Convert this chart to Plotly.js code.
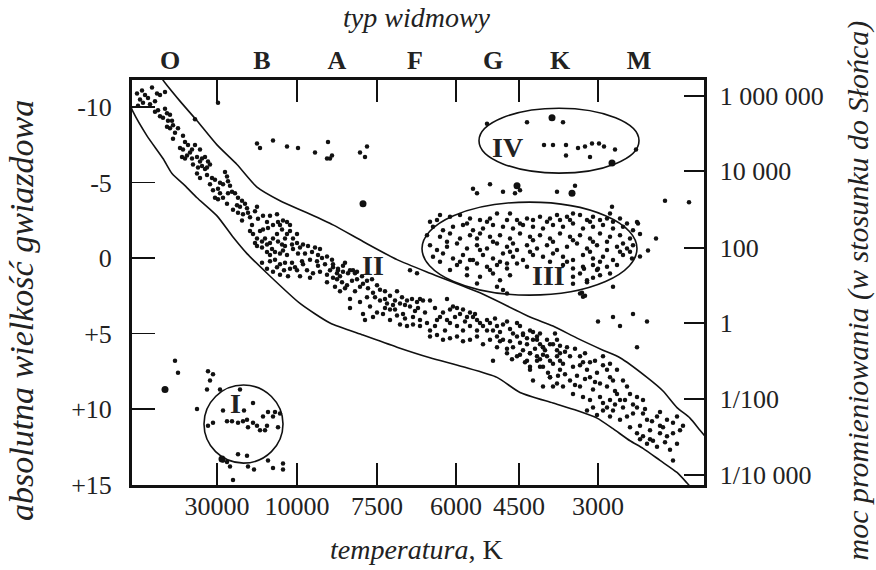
<!DOCTYPE html>
<html><head><meta charset="utf-8">
<script src="https://cdn.plot.ly/plotly-3.0.1.min.js"></script>
<style>html,body{margin:0;padding:0;background:#fff}#chart{width:876px;height:570px}</style>
</head><body><div id="chart"></div>
<script>
// x: position along the spectral / temperature axis (plot units), y: absolute magnitude
const tempTickPos = [217, 297, 377, 456, 519, 598];
const tempTickText = ['30000', '10000', '7500', '6000', '4500', '3000'];
const spectralPos = [170, 262, 337, 415, 493, 560, 639];
const spectralText = ['O', 'B', 'A', 'F', 'G', 'K', 'M'];
const magTicks = [-10, -5, 0, 5, 10, 15];
const magText = ['-10', '-5', '0', '+5', '+10', '+15'];
const lumTickMag = [-10.73, -5.76, -0.66, 4.30, 9.34, 14.37];
const lumText = ['1 000 000', '10 000', '100', '1', '1/100', '1/10 000'];

const mainSequence = [
[137,-10.9],[142,-11.1],[145,-10.8],[152,-11.3],[157,-10.9],[160,-10.8],[165,-11.0],[140,-10.5],[143,-10.3],[138,-10.1],
[155,-9.7],[158,-9.8],[160,-9.4],[163,-9.3],[167,-9.6],[170,-9.5],[168,-9.1],[172,-9.1],[173,-8.8],[167,-8.7],[170,-8.6],[175,-8.3],[173,-7.9],
[183,-8.1],[185,-7.7],[180,-7.3],[183,-7.2],[188,-7.5],[192,-7.2],[195,-7.5],[200,-7.2],[187,-6.8],[192,-6.6],[197,-6.7],[202,-6.6],[205,-6.7],[208,-6.4],[210,-6.2],[182,-6.7],[185,-6.6],[193,-6.2],[198,-6.0],[202,-6.1],[205,-5.9],[197,-5.6],[200,-5.3],[207,-5.5],[212,-5.3],[225,-5.7],[227,-5.4],[228,-5.1],[223,-4.9],[230,-4.8],[232,-4.4],[235,-4.3],[210,-4.9],[213,-4.5],[218,-4.6],[220,-4.3],[215,-4.0],[218,-3.9],[223,-4.0],[227,-3.6],[237,-3.5],[240,-3.4],[245,-3.6],[247,-3.3],[238,-3.0],[243,-2.9],[248,-3.0],[255,-3.1],[257,-3.4],[250,-2.7],[263,-2.8],[267,-2.4],[270,-2.8],[277,-2.9],[278,-2.4],[280,-2.2],[283,-2.5],[287,-2.4],[290,-2.2],[290,-1.8],[287,-1.6],[293,-1.3],[297,-1.6],[250,-1.8],[253,-1.6],[260,-1.8],[263,-1.9],[257,-1.3],[262,-1.1],[265,-1.3],[267,-0.9],[270,-1.0],[273,-1.3],[277,-1.6],[278,-1.1],[282,-0.9],[285,-0.8],[257,-0.8],[262,-0.7],[267,-0.4],[270,-0.2],[275,-0.4],[280,-0.3],[287,-0.2],[293,-0.6],[297,-1.0],[300,-0.7],[303,-0.9],[308,-0.8],[312,-0.4],[315,-0.7],[320,-0.6],[310,0.1],[317,0.2],[322,0.0],[327,-0.1],[332,0.1],[333,0.4],[338,0.7],[343,0.9],[350,0.8],[357,0.9],[270,0.2],[275,0.1],[280,0.4],[285,0.3],[290,0.7],[295,0.6],[297,0.8],[267,0.7],[273,0.9],[280,1.1],[303,0.4],[307,0.8],[313,1.0],[320,0.9],[327,1.1],[330,0.8],[337,1.0],
[333,0.6],[338,0.8],[343,0.5],[348,1.0],[353,0.8],[337,1.4],[342,1.6],[347,1.8],[335,1.9],[340,2.2],[352,1.5],[357,1.4],[360,1.9],[355,2.2],[363,1.7],[367,1.5],[372,1.4],[377,1.8],[350,2.7],[360,2.9],[367,2.6],[373,2.3],[380,2.1],[385,2.2],[390,2.5],[397,2.2],[402,2.6],[407,2.8],[412,2.7],[417,2.9],[420,2.7],[380,2.8],[387,3.0],[393,3.1],[400,3.0],[410,3.2],[418,3.3],[423,2.8],[430,2.8],[370,3.2],[377,3.6],[383,3.7],[390,3.4],[397,3.8],[403,3.7],[413,3.9],[420,4.1],[350,3.3],[363,3.7],[373,3.9],[365,4.1],[390,4.1],[400,4.4],[407,4.5],[413,4.4],[420,4.5],[427,4.3],[430,4.8],[437,4.1],[440,3.9],[447,2.7],[450,3.4],[453,3.2],[457,3.3],[460,3.7],[463,3.4],[467,3.9],[470,3.6],[473,3.9],[477,4.1],[447,4.1],[450,4.3],[457,4.5],[463,4.8],[470,4.5],[477,4.8],[483,4.5],[487,4.1],[490,4.3],[493,4.8],[497,4.5],[503,4.4],[510,4.7],[517,4.3],[520,4.5],[430,5.2],[437,5.1],[443,5.4],[450,5.3],[457,5.2],[463,5.5],[470,5.4],[477,5.2],[483,5.7],[490,5.4],[497,5.2],[503,5.4],[510,5.5],[517,5.2],[523,5.1],[530,4.8],[533,5.4],[537,5.2],[540,5.7],[543,5.9],[550,5.7],[557,5.4],[497,5.9],[500,5.5],[507,6.0],[513,5.9],[523,6.1],[530,6.3],[537,6.5],[543,6.4],[550,6.8],[557,6.5],[530,7.2],[543,7.2],[550,7.9],[557,8.3],[493,6.8],[507,6.3],[517,6.5],[527,6.8],
[523,5.0],[527,5.7],[533,4.9],[537,5.4],[530,6.3],[537,6.8],[530,7.4],[525,6.9],[543,5.9],[547,6.5],[553,5.7],[557,6.1],[553,7.0],[560,7.4],[550,7.9],[553,8.5],[563,8.5],[567,5.9],[570,6.5],[563,7.0],[573,7.2],[577,7.8],[570,8.1],[580,6.5],[583,6.9],[587,7.4],[590,7.9],[580,8.5],[573,9.0],[583,9.2],[590,9.4],[593,8.7],[600,8.3],[597,7.6],[603,7.1],[607,7.4],[610,7.9],[607,8.5],[613,8.1],[600,9.2],[610,9.4],[617,9.0],[620,9.4],[623,9.9],[613,10.1],[603,10.1],[597,10.4],[610,10.5],[620,10.7],[627,10.5],[633,10.3],[627,8.5],[630,9.0],[637,9.2],[643,9.4],[637,9.9],[643,10.3],[647,10.7],[640,11.1],[630,11.2],[637,11.6],[643,11.8],[650,11.4],[653,12.1],[657,12.5],[647,12.3],[660,11.6],[667,11.8],[663,11.2],[657,10.5],[660,10.2],[667,10.7],[673,10.9],[677,10.5],[683,11.1],[673,11.6],[680,11.4],[677,12.3],[670,12.7],[673,13.4],[617,7.4],[623,8.1],[610,7.0],[603,6.5],[560,6.8],[540,7.2],[533,8.1],[543,8.5],[607,9.9],[587,10.1],
[410,0.8],[417,1.0],
[233,-3.2],[242,-2.5],[252,-2.2],[258,-2.6],[268,-2.0],[273,-2.2],[282,-1.9],[285,-1.3],[292,-0.9],[255,-1.0],[272,-0.6],[283,-0.5],[298,-0.3],[305,-0.3],[318,-0.2],[325,0.4],[302,0.2],[292,0.3],[284,0.8],[262,0.3],[277,0.6],[288,1.2],[300,1.2],[310,1.3],[318,0.5],[345,0.3],[340,1.2],[327,1.6],[333,1.3],[345,2.0],[355,1.0],[362,1.2],[368,2.0],[375,2.6],[385,2.7],[395,2.8],[405,3.1],[385,3.3],[395,3.4],[405,4.0],[415,3.5],[425,3.6],[435,3.3],[443,3.6],[435,4.5],[445,4.8],[455,3.9],[465,4.2],[475,3.7],[480,4.3],[487,4.8],[495,4.0],[500,4.9],[507,4.2],[513,5.0],[520,5.6],[527,5.3],[540,5.0],[547,5.4],[555,5.0],[560,5.8],[565,6.2],[575,6.0],[585,6.3],[595,6.8],[560,6.3],[545,6.1],[535,6.0],[520,6.4],[512,6.7],[540,6.7],[548,7.6],[558,7.8],[565,7.7],[575,8.4],[585,8.0],[595,8.2],[593,9.9],[603,9.6],[615,8.8],[625,9.4],[633,9.7],[645,10.0],[652,10.8],[660,11.1],[650,12.0],[640,12.0],[665,12.2],[615,9.7],[580,7.1],[590,6.9],[200,-6.4],[190,-7.0],[207,-6.0],[215,-5.2],[220,-5.0],[228,-4.3],[238,-4.0],[242,-3.8],[178,-8.6],[150,-10.2],[165,-9.9],[148,-10.6],[155,-10.4]
];

const giants = [
[430,-2.41],[437,-2.52],[450,-2.74],[460,-2.85],[470,-2.63],[480,-2.52],[490,-2.63],[497,-2.96],[510,-2.96],[517,-2.52],[527,-2.63],[533,-2.52],[540,-2.74],[550,-2.63],[560,-2.52],[567,-2.74],[573,-2.96],[580,-2.85],[587,-2.52],[593,-2.74],[600,-2.52],[607,-2.63],[613,-2.41],[620,-2.63],
[433,-2.08],[443,-1.85],[453,-2.08],[463,-2.19],[473,-1.85],[483,-1.96],[493,-2.19],[503,-2.08],[513,-1.96],[523,-2.19],[533,-2.08],[543,-1.96],[553,-2.19],[563,-2.08],[573,-2.3],[583,-1.96],[593,-2.08],[603,-2.19],[613,-1.96],[623,-2.08],[633,-1.85],
[427,-1.52],[440,-1.41],[450,-1.63],[460,-1.3],[470,-1.52],[480,-1.63],[490,-1.41],[500,-1.52],[510,-1.3],[520,-1.63],[530,-1.41],[540,-1.52],[550,-1.3],[560,-1.63],[570,-1.41],[580,-1.52],[590,-1.3],[600,-1.63],[610,-1.41],[620,-1.52],[630,-1.3],
[430,-0.86],[437,-0.53],[447,-0.75],[457,-0.97],[467,-0.64],[477,-0.86],[487,-0.64],[497,-0.97],[507,-0.75],[517,-0.53],[527,-0.86],[537,-0.64],[547,-0.86],[557,-0.53],[567,-0.75],[577,-0.97],[587,-0.64],[597,-0.86],[607,-0.53],[617,-0.75],[627,-0.64],[633,-0.86],
[433,-0.09],[443,-0.31],[453,0.02],[463,-0.2],[473,0.13],[483,-0.2],[493,0.02],[503,-0.31],[513,-0.09],[523,0.13],[533,-0.2],[543,-0.09],[553,-0.31],[563,-0.09],[573,0.13],[583,-0.2],[593,0.02],[603,-0.09],[613,0.13],[623,-0.2],[632,0.02],
[457,0.46],[467,0.68],[477,0.35],[487,0.57],[497,0.46],[507,0.68],[517,0.35],[527,0.57],[563,0.46],[573,0.68],[583,0.57],[597,0.79],[607,0.57],[617,0.46],
[467,1.13],[480,1.24],[493,1.02],[500,1.46],[510,1.13],[573,1.24],[587,1.46],[600,1.13],
[497,1.9],[503,2.12],[507,2.34],[477,1.68],[580,2.34],[583,2.56],
[440,-2.85],[467,-2.3],[487,-2.41],[507,-2.52],[520,-2.3],[547,-2.41],[557,-2.85],[570,-2.52],[590,-2.41],[610,-2.96],[627,-2.3],
[447,-1.08],[477,-1.3],[493,-1.08],[513,-0.97],[533,-1.19],[553,-1.08],[573,-1.19],[593,-1.08],[607,-1.08],[623,-0.97],
[440,0.24],[460,0.24],[480,-0.53],[500,0.24],[510,-0.42],[530,-0.42],[550,0.24],[567,0.24],[590,-0.42],[600,0.24],[620,-0.42],[630,-0.42],
[450,0.79],[470,0.13],[490,0.79],[507,0.35],[580,1.02],[593,0.46],[610,1.02],
[473,-4.6],[477,-4.3],[490,-4.9],[503,-4.4],[515,-4.3],[520,-4.5],[557,-4.4],[575,-4.8],
[665,-3.8],[689,-3.7],[612,-3.4],[637,-2.4],[638,-2.3],[640,-1.6],[656,-1.3],[648,-0.5],[640,-0.1],[584,0.7],[598,0.7],[573,1.7],[587,1.6],[593,1.3],[613,1.9],[582,2.3],[585,2.5],
[598,4.2],[613,3.9],[620,4.5],[633,3.7],[647,4.2],[637,5.9]
];

const supergiants = [
[487,-8.9],[527,-9.0],[563,-9.0],[544,-7.5],[553,-7.5],[566,-7.5],[578,-7.3],[566,-6.8],[585,-7.4],[592,-7.6],[599,-7.6],[604,-7.4],[615,-7.2],[590,-6.7],[636,-7.2],
[218,-10.3],[195,-9.2],[257,-7.6],[260,-7.3],[273,-7.8],[287,-7.4],[298,-7.3],[315,-7.0],[328,-7.7],[327,-6.6],[330,-6.6],[332,-6.8],[360,-7.0],[367,-7.4],[365,-6.7]
];

const whiteDwarfs = [
[175,6.8],[178,7.6],[208,7.5],[213,7.7],[210,8.1],[207,8.7],[197,10.0],[220,8.7],[240,8.7],[223,10.1],[244,10.1],[253,9.6],
[208,11.1],[213,10.9],[227,10.8],[232,10.8],[238,10.9],[243,10.8],[247,10.7],[248,11.2],[253,10.9],[257,11.1],[260,11.4],[265,11.4],[267,11.1],[263,10.5],[268,10.2],[275,10.2],[280,10.3],[278,11.2],[273,10.5],
[223,13.4],[227,13.5],[230,13.8],[238,13.0],[247,13.1],[248,13.8],[254,14.0],[268,13.4],[273,13.9],[283,13.6],[283,14.0],[233,14.7]
];

const brightStars = [[552,-9.3],[363,-3.6],[165,8.7],[517,-4.8],[572,-4.3],[612,-6.3],[222,13.3]];

// outline of the main-sequence band
const upperEdge = [[160,-12.2],[163,-11.8],[180,-10.4],[197,-9.1],[217,-7.5],[237,-6.2],[257,-4.7],[280,-3.8],[307,-3.0],[333,-2.2],[363,-1.1],[397,0.1],[430,1.0],[480,2.3],[530,3.9],[553,4.5],[577,5.3],[603,6.1],[620,6.6],[647,7.9],[663,8.8],[677,9.9],[690,10.6],[700,11.4],[710,12.2]];
const lowerEdge = [[128,-10.5],[133,-9.7],[147,-8.1],[163,-6.6],[172,-5.6],[185,-4.8],[197,-4.0],[217,-2.8],[233,-1.4],[247,-0.3],[267,1.0],[300,3.0],[330,4.3],[363,5.1],[397,5.9],[430,6.6],[463,7.2],[497,7.9],[520,8.9],[553,9.6],[577,10.1],[597,10.6],[613,11.3],[630,12.1],[643,12.6],[660,13.4],[677,14.2],[687,14.9],[695,15.5]];

// star groups: label, label position, enclosing ellipse bounds
const groupLabels = ['I', 'II', 'III', 'IV'];
const groupLabelX = [235, 373, 548, 507];
const groupLabelY = [9.6, 0.5, 1.15, -7.35];
const ellipseX0 = [204, 422, 479];
const ellipseX1 = [283, 637, 639];
const ellipseY0 = [8.41, -3.71, -9.93];
const ellipseY1 = [13.58, 2.45, -5.63];

const serif = 'Liberation Serif, Times New Roman, serif';
const xs = a => a.map(p => p[0]);
const ys = a => a.map(p => p[1]);
const dot = {color: '#111', size: 4.5};
const traces = [
  {x: xs(upperEdge), y: ys(upperEdge), mode: 'lines', line: {color: '#111', width: 1.6, shape: 'spline', smoothing: 0.6}, hoverinfo: 'skip'},
  {x: xs(lowerEdge), y: ys(lowerEdge), mode: 'lines', line: {color: '#111', width: 1.6, shape: 'spline', smoothing: 0.6}, hoverinfo: 'skip'},
  {x: xs(mainSequence), y: ys(mainSequence), mode: 'markers', marker: dot},
  {x: xs(giants), y: ys(giants), mode: 'markers', marker: dot},
  {x: xs(supergiants), y: ys(supergiants), mode: 'markers', marker: dot},
  {x: xs(whiteDwarfs), y: ys(whiteDwarfs), mode: 'markers', marker: dot},
  {x: xs(brightStars), y: ys(brightStars), mode: 'markers', marker: {color: '#111', size: 7}},
  {x: [spectralPos[0]], y: [0], xaxis: 'x2', mode: 'markers', marker: {opacity: 0}, hoverinfo: 'skip'},
  {x: [0], y: [lumTickMag[0]], yaxis: 'y2', mode: 'markers', marker: {opacity: 0}, hoverinfo: 'skip'}
];

const shapes = ellipseX0.map((x0, i) => ({
  type: 'circle', xref: 'x', yref: 'y', x0: x0, x1: ellipseX1[i], y0: ellipseY0[i], y1: ellipseY1[i],
  line: {color: '#111', width: 1.6}
}));

const annotations = groupLabels.map((t, i) => ({
  x: groupLabelX[i], y: groupLabelY[i], xref: 'x', yref: 'y', text: '<b>' + t + '</b>', showarrow: false,
  xanchor: 'center', yanchor: 'middle',
  font: {family: serif, size: 28, color: '#222'}
}));
const titleBase = {xref: 'paper', yref: 'paper', showarrow: false, xanchor: 'center', yanchor: 'middle'};
annotations.push(
  Object.assign({x: 0.498, y: 1.155, text: '<i>typ widmowy</i>', font: {family: serif, size: 28, color: '#222'}}, titleBase),
  Object.assign({x: 0.498, y: -0.16, text: '<i>temperatura</i>, K', font: {family: serif, size: 28, color: '#222'}}, titleBase),
  Object.assign({x: -0.192, y: 0.43, text: '<i>absolutna wielkość gwiazdowa</i>', textangle: -90, font: {family: serif, size: 34, color: '#222'}}, titleBase),
  Object.assign({x: 1.269, y: 0.48, text: '<i>moc promieniowania (w stosunku do Słońca)</i>', textangle: -90, font: {family: serif, size: 30, color: '#222'}}, titleBase)
);

const tickFont = {family: serif, size: 26, color: '#222'};
const layout = {
  width: 876, height: 570,
  margin: {l: 132, r: 172, t: 80, b: 85},
  paper_bgcolor: '#fff', plot_bgcolor: '#fff',
  showlegend: false,
  xaxis: {range: [132, 704], tickvals: tempTickPos, ticktext: tempTickText, ticks: 'inside', ticklen: 22, tickwidth: 1.6,
    tickcolor: '#111', showline: true, linewidth: 3, linecolor: '#111', mirror: 'ticks', showgrid: false, zeroline: false,
    tickfont: tickFont, ticklabelstandoff: -4},
  xaxis2: {overlaying: 'x', side: 'top', range: [132, 704], tickvals: spectralPos, ticktext: spectralText.map(s => '<b>' + s + '</b>'),
    ticks: '', showline: false, showgrid: false, zeroline: false, tickfont: tickFont, ticklabelstandoff: 5},
  yaxis: {range: [15.03, -11.8], tickvals: magTicks, ticktext: magText, ticks: 'inside', ticklen: 23, tickwidth: 1.6,
    tickcolor: '#111', showline: true, linewidth: 3, linecolor: '#111', showgrid: false, zeroline: false,
    tickfont: tickFont, ticklabelstandoff: 12},
  yaxis2: {overlaying: 'y', side: 'right', range: [15.03, -11.8], tickvals: lumTickMag, ticktext: lumText, ticks: 'inside',
    ticklen: 20, tickwidth: 1.6, tickcolor: '#111', showline: true, linewidth: 2.5, linecolor: '#111', showgrid: false, zeroline: false,
    tickfont: tickFont, ticklabelstandoff: 8},
  shapes: shapes,
  annotations: annotations
};

Plotly.newPlot('chart', traces, layout, {displayModeBar: false, staticPlot: true});
</script></body></html>
